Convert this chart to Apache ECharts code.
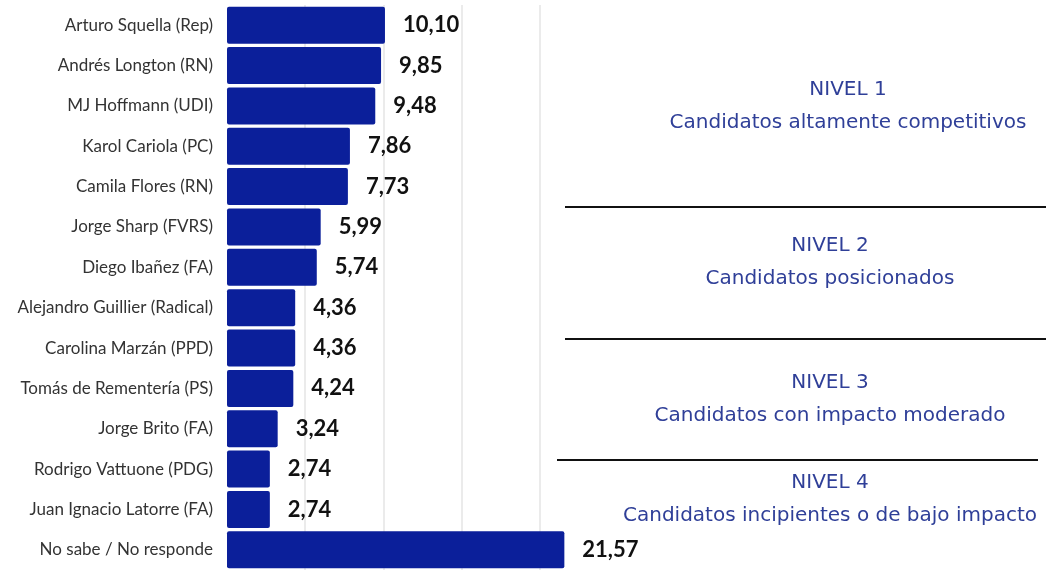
<!DOCTYPE html>
<html>
<head>
<meta charset="utf-8">
<script src="https://cdn.jsdelivr.net/npm/echarts@6/dist/echarts.min.js"></script>
<style>
  html, body { margin: 0; padding: 0; background: #ffffff; }
  #main { width: 1046px; height: 570px; }
</style>
</head>
<body>
<div id="main"></div>
<script>
// candidatos, de arriba hacia abajo
var candidatos = [
	'Arturo Squella (Rep)',
	'Andrés Longton (RN)',
	'MJ Hoffmann (UDI)',
	'Karol Cariola (PC)',
	'Camila Flores (RN)',
	'Jorge Sharp (FVRS)',
	'Diego Ibañez (FA)',
	'Alejandro Guillier (Radical)',
	'Carolina Marzán (PPD)',
	'Tomás de Rementería (PS)',
	'Jorge Brito (FA)',
	'Rodrigo Vattuone (PDG)',
	'Juan Ignacio Latorre (FA)',
	'No sabe / No responde'
];
var porcentajes = [10.10, 9.85, 9.48, 7.86, 7.73, 5.99, 5.74, 4.36, 4.36, 4.24, 3.24, 2.74, 2.74, 21.57];

var niveles = ['NIVEL 1', 'NIVEL 2', 'NIVEL 3', 'NIVEL 4'];
var nivelesTexto = [
	'Candidatos altamente competitivos',
	'Candidatos posicionados',
	'Candidatos con impacto moderado',
	'Candidatos incipientes o de bajo impacto'
];

var fuente = 'Lato, "Open Sans", sans-serif';
var fuenteNivel = '"DejaVu Sans", Lato, sans-serif';
var azulTexto = '#2f3f98';

// textos de la derecha
var nivelX = [848, 830, 830, 830];
var nivelY = [90, 246, 383, 483];
var graficos = [];
for (var i = 0; i < niveles.length; i++) {
	graficos.push({
		type: 'text', x: nivelX[i], y: nivelY[i],
		style: { text: niveles[i], fill: azulTexto, font: '20px ' + fuenteNivel, align: 'center', verticalAlign: 'middle' }
	});
	graficos.push({
		type: 'text', x: nivelX[i], y: nivelY[i] + 33,
		style: { text: nivelesTexto[i], fill: azulTexto, font: '20px ' + fuenteNivel, align: 'center', verticalAlign: 'middle' }
	});
}
// separadores
graficos.push({ type: 'line', shape: { x1: 565, y1: 207, x2: 1046, y2: 207 }, style: { stroke: '#111', lineWidth: 2 } });
graficos.push({ type: 'line', shape: { x1: 565, y1: 339, x2: 1046, y2: 339 }, style: { stroke: '#111', lineWidth: 2 } });
graficos.push({ type: 'line', shape: { x1: 557, y1: 460, x2: 1038, y2: 460 }, style: { stroke: '#111', lineWidth: 2 } });

var chart = echarts.init(document.getElementById('main'));
var option = {
	backgroundColor: '#ffffff',
	animation: false,
	textStyle: { fontFamily: fuente },
	grid: {
		left: 227,
		top: 5,
		width: 391,
		height: 571
	},
	xAxis: {
		type: 'value',
		min: 0,
		max: 25,
		interval: 5,
		axisLabel: { show: false },
		axisLine: { show: false },
		axisTick: { show: false },
		splitLine: {
			show: true,
			showMinLine: false,
			showMaxLine: false,
			lineStyle: { color: '#e4e4e4', width: 1.5 }
		}
	},
	yAxis: {
		type: 'category',
		inverse: true,
		data: candidatos,
		axisLine: { show: false },
		axisTick: { show: false },
		axisLabel: { color: '#333', fontSize: 17, margin: 14, fontFamily: fuente }
	},
	series: [
		{
			name: 'Porcentaje',
			type: 'bar',
			data: porcentajes,
			barWidth: 37,
			itemStyle: { color: '#0b1f9a', borderRadius: 2 },
			label: {
				show: true,
				position: 'right',
				distance: 18,
				color: '#111',
				fontSize: 22,
				fontWeight: 'bold',
				fontFamily: fuente,
				formatter: function (p) {
					return p.value.toFixed(2).replace('.', ',');
				}
			}
		}
	],
	graphic: graficos
};
chart.setOption(option);
</script>
</body>
</html>
